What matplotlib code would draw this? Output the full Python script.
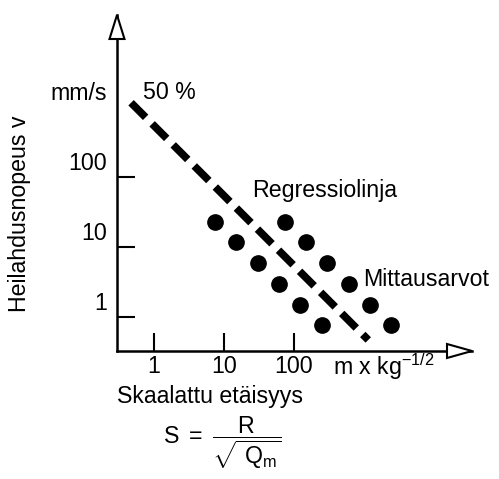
import matplotlib
matplotlib.use("Agg")
import matplotlib.pyplot as plt
from matplotlib.patches import Polygon
from matplotlib.ticker import NullLocator
from matplotlib.transforms import ScaledTranslation

plt.rcParams['font.family'] = ['Liberation Sans', 'DejaVu Sans']
plt.rcParams['mathtext.fontset'] = 'custom'
plt.rcParams['mathtext.rm'] = 'Liberation Sans'
plt.rcParams['mathtext.it'] = 'Liberation Sans:italic'
plt.rcParams['font.size'] = 16.7

# mittausarvot: skaalattu etäisyys S (m x kg^-1/2), heilahdusnopeus v (mm/s)
meas_s = [7.4, 74, 15, 150, 31, 300, 61, 610, 122, 1220, 250, 2400]
meas_v = [23, 23, 11.8, 11.8, 5.9, 5.9, 3.0, 3.0, 1.5, 1.5, 0.77, 0.77]
# regressiolinja (50 %)
reg_s = [0.47, 1150]
reg_v = [1150, 0.47]

x_ticks = [1, 10, 100]
x_tick_labels = ['1', '10', '100']
y_ticks = [1, 10, 100]
y_tick_labels = ['1', '10', '100']

W, H = 499, 479
fig = plt.figure(figsize=(W / 100, H / 100), dpi=100)
# one decade = 70 px on both axes
ax = fig.add_axes([117 / W, (H - 351) / H, (472 - 117) / W, (351 - 15) / H])
ax.set_xscale('log')
ax.set_yscale('log')
ax.set_xlim(10 ** (-37 / 70), 10 ** (318 / 70))
ax.set_ylim(10 ** (-34 / 70), 10 ** (302 / 70))

for side in ('top', 'right'):
    ax.spines[side].set_visible(False)
for side in ('left', 'bottom'):
    ax.spines[side].set_linewidth(1.8)

ax.xaxis.set_minor_locator(NullLocator())
ax.yaxis.set_minor_locator(NullLocator())
ax.set_xticks(x_ticks, x_tick_labels)
ax.set_yticks(y_ticks, [])
ax.tick_params(direction='in', length=13, width=1.5, labelsize=16.7)
ax.tick_params(axis='x', pad=3)

# y tick labels sit above their ticks
for v, lab in zip(y_ticks, y_tick_labels):
    ax.annotate(lab, xy=(0, v), xycoords=('axes fraction', 'data'),
                xytext=(-7, 10), textcoords='offset points',
                ha='right', va='center')
ax.annotate('mm/s', xy=(0, 1000), xycoords=('axes fraction', 'data'),
            xytext=(-7, 10), textcoords='offset points', ha='right', va='center')
ax.annotate(r'm x kg$^{\mathregular{-1/2}}$', xy=(10 ** 2.56, 0),
            xycoords=('data', 'axes fraction'), xytext=(0, -11.5),
            textcoords='offset points', ha='left', va='center')


def arrow_head(anchor, verts):
    tr = fig.dpi_scale_trans + ScaledTranslation(anchor[0], anchor[1], ax.transAxes)
    ax.add_patch(Polygon(verts, closed=True, transform=tr, fc='white', ec='black',
                         lw=1.5, zorder=5, clip_on=False))


arrow_head((0, 1), [(-0.075, -0.24), (0.075, -0.24), (0, 0)])
arrow_head((1, 0), [(-0.25, -0.07), (-0.25, 0.07), (0, 0)])

ax.plot(reg_s, reg_v, color='black', lw=5.5, ls=(0, (2.7, 1.2)),
        dash_capstyle='butt', clip_on=False)
ax.plot(meas_s, meas_v, 'o', color='black', ms=11, ls='none', clip_on=False)

ax.text(0.70, 1585, '50 %', ha='left', va='center')
ax.text(25, 65, 'Regressiolinja', ha='left', va='center')
ax.text(968, 3.4, 'Mittausarvot', ha='left', va='center')

fig.text(20 / W, 1 - 214 / H, 'Heilahdusnopeus v', rotation=90,
         ha='center', va='center')
fig.text(117 / W, 1 - 397 / H, 'Skaalattu etäisyys', ha='left', va='center')
fig.text(222 / W, 1 - 443 / H,
         r'$\mathrm{S}\ =\ \dfrac{\mathrm{R}}{\sqrt{\ \mathrm{Q_m}}}$',
         ha='center', va='center')

fig.savefig('out.png', dpi=100)
